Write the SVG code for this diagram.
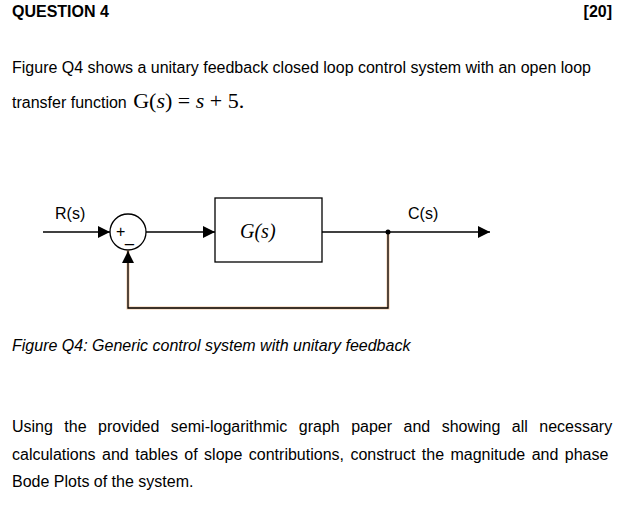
<svg xmlns="http://www.w3.org/2000/svg" width="620" height="507" viewBox="0 0 620 507">
<style>
.t{font-family:"Liberation Sans",Arial,sans-serif;font-size:16px;fill:#000}
.m{font-family:"Liberation Serif","Times New Roman",serif;fill:#000}
.w{stroke:#000;stroke-width:1.3;fill:none}
</style>
<defs><marker id="a" viewBox="0 0 10 10" refX="10" refY="5" markerWidth="12" markerHeight="12" markerUnits="userSpaceOnUse" orient="auto"><path d="M0,0L10,5L0,10Z" fill="#000"/></marker></defs>
<rect width="620" height="507" fill="#fff"/>
<text class="t" x="12" y="17" font-weight="bold" font-size="15">QUESTION 4</text>
<text class="t" x="612" y="17" font-weight="bold" font-size="15" text-anchor="end">[20]</text>
<text class="t" x="12" y="73">Figure Q4 shows a unitary feedback closed loop control system with an open loop</text>
<text class="t" x="12" y="108" font-size="15">transfer function <tspan class="m" font-size="22" dx="2">G(<tspan font-style="italic">s</tspan>) = <tspan font-style="italic">s</tspan> + 5.</tspan></text>
<g id="connectors">
<line class="w" x1="43" y1="232" x2="110" y2="232" marker-end="url(#a)"/>
<line class="w" x1="146" y1="232" x2="215" y2="232" marker-end="url(#a)"/>
<line class="w" x1="322" y1="232" x2="490" y2="232" marker-end="url(#a)"/>
<polyline points="388,232 388,308 128,308 128,250" fill="none" stroke="#f2c9a6" stroke-width="3"/>
<polyline class="w" points="388,232 388,308 128,308 128,251" marker-end="url(#a)"/>
<circle cx="388" cy="232" r="2.5" fill="#000"/>
</g>
<g id="sum"><circle class="w" cx="128" cy="232" r="18" fill="#fff"/>
<text class="t" x="116" y="237" font-size="12">+</text><text class="t" x="125" y="242" font-size="12">_</text></g>
<g id="G"><rect x="215" y="198" width="107" height="64" fill="#fff" stroke="#000" stroke-width="1.3"/>
<text class="m" x="240" y="238" font-size="20" font-style="italic">G(s)</text></g>
<text class="t" x="55" y="219">R(s)</text>
<text class="t" x="408" y="219">C(s)</text>
<text class="t" x="12" y="351" font-style="italic">Figure Q4: Generic control system with unitary feedback</text>
<text class="t" x="12" y="432" word-spacing="7">Using the provided semi-logarithmic graph paper and showing all necessary</text>
<text class="t" x="12" y="460" word-spacing="2">calculations and tables of slope contributions, construct the magnitude and phase</text>
<text class="t" x="12" y="487">Bode Plots of the system.</text>
</svg>
